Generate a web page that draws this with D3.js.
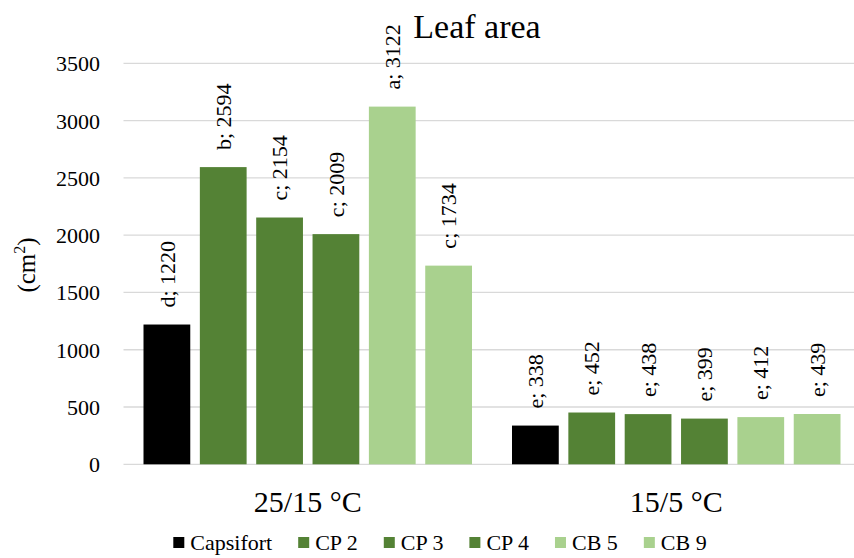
<!DOCTYPE html>
<html>
<head>
<meta charset="utf-8">
<script src="https://cdn.jsdelivr.net/npm/d3@7"></script>
<style>
  html, body { margin: 0; padding: 0; background: #fff; }
  svg { display: block; }
  svg text { font-family: "Liberation Serif", "Times New Roman", serif; }
</style>
</head>
<body>
<svg id="chart" width="854" height="558"></svg>
<script>
const groups = ["25/15 °C", "15/5 °C"];
const series = ["Capsifort", "CP 2", "CP 3", "CP 4", "CB 5", "CB 9"];
const colors = ["#000000", "#548235", "#548235", "#548235", "#A9D18E", "#A9D18E"];
const values25 = [1220, 2594, 2154, 2009, 3122, 1734];
const values15 = [338, 452, 438, 399, 412, 439];
const letters25 = ["d", "b", "c", "c", "a", "c"];
const letters15 = ["e", "e", "e", "e", "e", "e"];
const yTicks = [0, 500, 1000, 1500, 2000, 2500, 3000, 3500];

const data = [
  { group: groups[0], values: values25, letters: letters25 },
  { group: groups[1], values: values15, letters: letters15 }
];

const svg = d3.select("#chart");

const x0 = d3.scaleBand().domain(groups).range([123.5, 860.5]).paddingInner(0).paddingOuter(0);
const x1 = d3.scaleBand().domain(series).range([20, x0.bandwidth() - 20]).paddingInner(0.17).paddingOuter(0);
const y = d3.scaleLinear().domain([0, 3500]).range([464.3, 63.3]);

// gridlines
svg.append("g")
  .selectAll("line")
  .data(yTicks)
  .join("line")
  .attr("x1", 123.5).attr("x2", 854)
  .attr("y1", d => y(d)).attr("y2", d => y(d))
  .attr("stroke", "#d9d9d9").attr("stroke-width", 1.3);

// y axis labels
const yAxis = d3.axisLeft(y).tickValues(yTicks).tickSize(0).tickPadding(0).tickFormat(d3.format("d"));
const yg = svg.append("g").attr("transform", "translate(100,0)").call(yAxis);
yg.attr("font-family", null);
yg.select(".domain").remove();
yg.selectAll("text")
  .attr("font-size", 22).attr("fill", "#000").attr("dy", "0.34em");

// y axis title
svg.append("text")
  .attr("transform", "translate(35,265) rotate(-90)")
  .attr("text-anchor", "middle")
  .attr("font-size", 25)
  .attr("fill", "#000")
  .call(t => {
    t.append("tspan").text("(cm");
    t.append("tspan").attr("font-size", 16).attr("dy", "-0.6em").text("2");
    t.append("tspan").attr("dy", "0.38em").text(")");
  });

// bars
const gGroups = svg.append("g").selectAll("g")
  .data(data)
  .join("g")
  .attr("transform", d => `translate(${x0(d.group)},0)`);

gGroups.selectAll("rect")
  .data(d => d.values.map((v, i) => ({ s: series[i], v, c: colors[i], l: d.letters[i] })))
  .join("rect")
  .attr("x", d => x1(d.s))
  .attr("width", x1.bandwidth())
  .attr("y", d => y(d.v))
  .attr("height", d => y(0) - y(d.v))
  .attr("fill", d => d.c);

gGroups.selectAll("text.lbl")
  .data(d => d.values.map((v, i) => ({ s: series[i], v, l: d.letters[i] })))
  .join("text")
  .attr("class", "lbl")
  .attr("transform", d => `translate(${x1(d.s) + x1.bandwidth() / 2},${y(d.v) - 17}) rotate(-90)`)
  .attr("dy", "0.35em")
  .attr("text-anchor", "start")
  .attr("font-size", 22)
  .attr("fill", "#000")
  .text(d => `${d.l}; ${d.v}`);

// x axis category labels
const xAxis = d3.axisBottom(x0).tickSize(0).tickPadding(0);
const xg = svg.append("g").attr("transform", "translate(0,512)").call(xAxis);
xg.attr("font-family", null);
xg.select(".domain").remove();
xg.selectAll("text")
  .attr("font-size", 30).attr("fill", "#000").attr("dy", "0");

// title
svg.append("text")
  .attr("x", 477).attr("y", 38)
  .attr("text-anchor", "middle")
  .attr("font-size", 34)
  .attr("fill", "#000")
  .text("Leaf area");

// legend
const legend = svg.append("g");
let lx = 0;
const gap = 26;
series.forEach((s, i) => {
  const item = legend.append("g").attr("transform", `translate(${lx},0)`);
  item.append("rect").attr("x", 0).attr("y", -13).attr("width", 11).attr("height", 11).attr("fill", colors[i]);
  const t = item.append("text").attr("x", 17).attr("y", 0).attr("font-size", 22).attr("fill", "#000").text(s);
  lx += 17 + t.node().getComputedTextLength() + gap;
});
const totalW = lx - gap;
legend.attr("transform", `translate(${440 - totalW / 2},550)`);
</script>
</body>
</html>
